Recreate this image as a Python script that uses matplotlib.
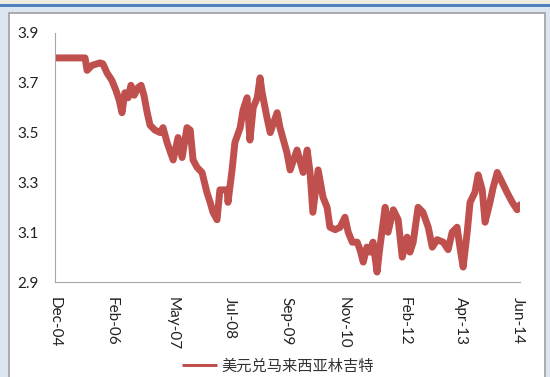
import matplotlib
matplotlib.use('Agg')
import matplotlib.pyplot as plt
from matplotlib.patches import Rectangle

plt.rcParams['font.family'] = ['Lato', 'DejaVu Sans']

# months since Dec-04
months = [0, 7.4, 7.9, 9.1, 11.1, 11.8, 12.8, 14.0, 15.0, 15.8, 16.5, 17.2, 18.0, 18.7,
          19.5, 20.4, 21.2, 21.9, 22.7, 23.4, 24.6, 25.9, 26.6, 27.6, 29.1, 30.3,
          31.3, 32.5, 33.3, 34.0, 35.0, 36.2, 37.4, 38.2, 38.9, 39.9, 40.6, 42.4,
          42.6, 43.6, 44.3, 45.6, 46.3, 47.3, 48.0, 48.8, 49.8, 50.5, 51.0, 52.2,
          53.0, 54.7, 55.4, 57.1, 57.9, 59.6, 61.1, 62.1, 62.8, 63.5, 64.8, 66.0,
          67.0, 67.7, 69.0, 70.2, 71.4, 72.2, 73.2, 74.4, 75.1, 75.9, 76.8, 77.6,
          78.3, 79.3, 80.0, 81.3, 82.0, 83.3, 84.5, 85.5, 86.7, 87.4, 88.2, 89.4,
          90.6, 91.9, 92.9, 94.1, 95.6, 96.8, 97.8, 99.0, 99.8, 100.5, 101.5, 102.2,
          103.4, 104.2, 105.2, 105.9, 107.1, 107.9, 108.9, 110.1, 111.3, 112.6,
          113.8, 114.5]
usd_myr = [3.80, 3.80, 3.75, 3.77, 3.78, 3.776, 3.74, 3.71, 3.67, 3.63, 3.58, 3.66, 3.64,
           3.69, 3.65, 3.68, 3.69, 3.65, 3.58, 3.53, 3.51, 3.50, 3.52, 3.46, 3.39, 3.48,
           3.40, 3.52, 3.51, 3.39, 3.36, 3.34, 3.26, 3.22, 3.18, 3.15, 3.27, 3.27, 3.22,
           3.35, 3.46, 3.52, 3.59, 3.64, 3.47, 3.60, 3.64, 3.72, 3.66, 3.56, 3.50, 3.58,
           3.52, 3.42, 3.35, 3.43, 3.34, 3.43, 3.34, 3.18, 3.35, 3.24, 3.20, 3.12, 3.11,
           3.12, 3.16, 3.10, 3.06, 3.06, 3.03, 2.98, 3.04, 3.02, 3.06, 2.94, 3.04, 3.20,
           3.10, 3.19, 3.15, 3.00, 3.08, 3.02, 3.06, 3.20, 3.18, 3.12, 3.04, 3.07, 3.06,
           3.03, 3.10, 3.12, 3.03, 2.96, 3.10, 3.22, 3.26, 3.33, 3.27, 3.14, 3.22, 3.28,
           3.34, 3.30, 3.26, 3.22, 3.19, 3.21]

tick_months = [0, 14, 29, 43, 57, 71, 86, 100, 114]
tick_labels = ['Dec-04', 'Feb-06', 'May-07', 'Jul-08', 'Sep-09', 'Nov-10', 'Feb-12', 'Apr-13', 'Jun-14']
y_ticks = [2.9, 3.1, 3.3, 3.5, 3.7, 3.9]
series_name = '美元兑马来西亚林吉特'

fig = plt.figure(figsize=(5.5, 3.77), dpi=100)
fig.patch.set_facecolor('#dce6f2')

# window decoration: beige strip, blue line, white chart area with grey border
fig.patches.append(Rectangle((0, 1 - 4 / 377), 1, 4 / 377, transform=fig.transFigure,
                             facecolor='#eeebe0', edgecolor='none', zorder=-2))
fig.patches.append(Rectangle((0, 1 - 7 / 377), 1, 3 / 377, transform=fig.transFigure,
                             facecolor='#4f81bd', edgecolor='none', zorder=-2))
fig.patches.append(Rectangle((8.5 / 550, -0.05), (545 - 8.5) / 550, 1.05 - 12.5 / 377,
                             transform=fig.transFigure, facecolor='white',
                             edgecolor='#a0a0a0', linewidth=1.2, zorder=-2))

ax = fig.add_axes([55 / 550, 1 - 282 / 377, (520 - 55) / 550, (282 - 33) / 377])
ax.set_facecolor('none')
ax.plot(months, usd_myr, color='#c0504d', linewidth=5, solid_joinstyle='round',
        solid_capstyle='round', label=series_name)

ax.set_xlim(0, 114.5)
ax.set_ylim(2.9, 3.9)
ax.set_yticks(y_ticks)
ax.set_yticklabels([f'{v:.1f}' for v in y_ticks])
ax.set_xticks(tick_months)
ax.set_xticklabels(tick_labels, rotation=-90)
ax.tick_params(axis='both', length=0, labelsize=11, colors='#222222')
ax.tick_params(axis='y', pad=12)
ax.tick_params(axis='x', pad=11)

for side in ['top', 'right']:
    ax.spines[side].set_visible(False)
ax.spines['left'].set_color('#a6a6a6')
ax.spines['bottom'].set_color('#a6a6a6')

leg = fig.legend(loc='center', bbox_to_anchor=(278 / 550, 1 - 366 / 377), frameon=False,
                 handlelength=2.3, handletextpad=0.3,
                 prop={'family': ['Noto Sans CJK SC', 'DejaVu Sans'], 'size': 11})
for t in leg.get_texts():
    t.set_color('#333333')
for h in leg.get_lines():
    h.set_linewidth(2.2)
    h.set_solid_capstyle('butt')

fig.savefig('out.png', dpi=100, facecolor=fig.get_facecolor())
